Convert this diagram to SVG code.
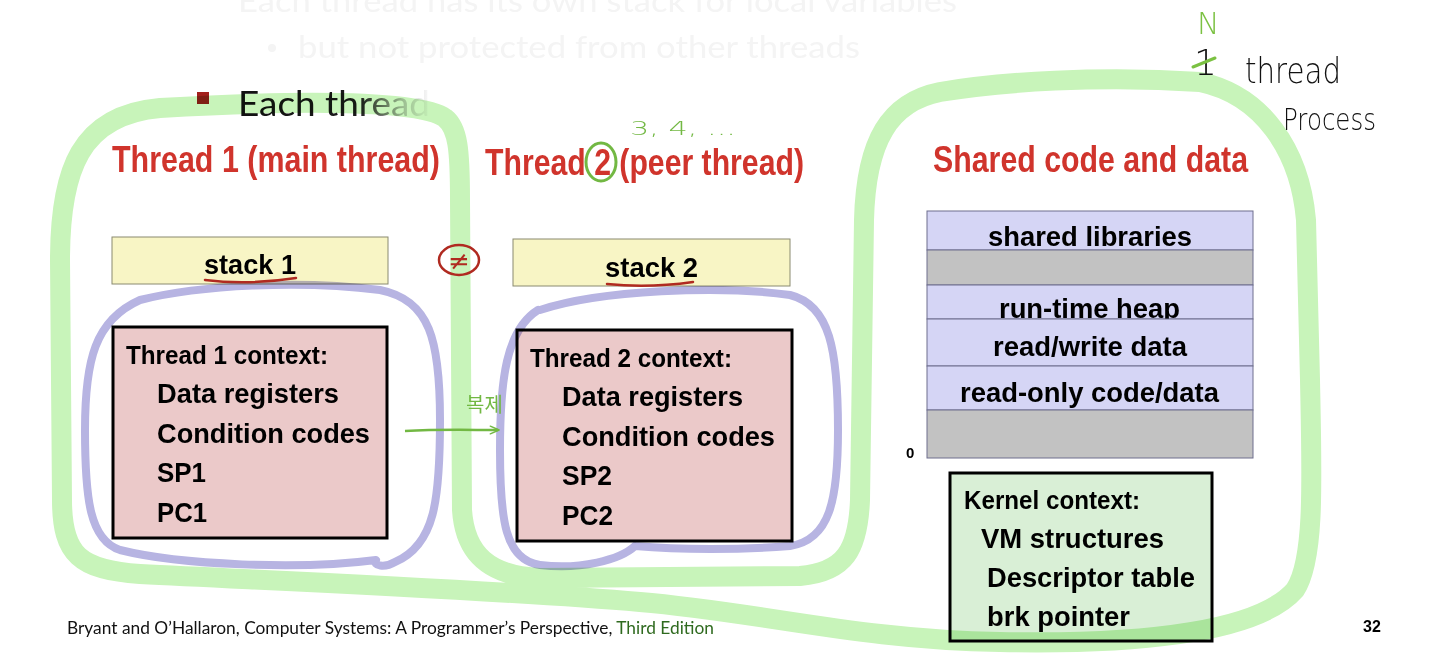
<svg xmlns="http://www.w3.org/2000/svg" width="1440" height="663" viewBox="0 0 1440 663">
<defs>
<style>
.title{font-family:"Liberation Sans",Arial,sans-serif;font-weight:bold;font-size:36px;fill:#d0342c}
.b{font-family:"Liberation Sans",Arial,sans-serif;font-weight:bold;fill:#000}
.seg{stroke:#6e6e8e;stroke-width:1}
.lav{fill:#d5d5f5}
.gry{fill:#c2c2c2}
.ctx{fill:#ebc9c9;stroke:#000;stroke-width:3}
.stk{fill:#f8f5c5;stroke:#8a8a70;stroke-width:1}
.faint{font-family:Lato,"Open Sans",sans-serif;font-size:31px;fill:#f4f4f4}
.hand{font-family:"DejaVu Sans",sans-serif;font-weight:200}
.hl{fill:none;stroke:#c8f4ba;stroke-width:20;stroke-linecap:round;stroke-linejoin:round;mix-blend-mode:multiply}
.pu{fill:none;stroke:#b7b4e2;stroke-width:8;stroke-linecap:round;stroke-linejoin:round;mix-blend-mode:multiply}
.gr{fill:none;stroke:#72b843;stroke-width:3;stroke-linecap:round}
.rd{fill:none;stroke:#b02a20;stroke-width:2.5;stroke-linecap:round}
</style>
<linearGradient id="fade" gradientUnits="userSpaceOnUse" x1="238" y1="0" x2="440" y2="0">
<stop offset="0" stop-color="#111"/>
<stop offset="0.6" stop-color="#1a1a1a"/>
<stop offset="0.82" stop-color="#c8c8c8"/>
<stop offset="0.95" stop-color="#fafafa"/>
<stop offset="1" stop-color="#fff"/>
</linearGradient>
<marker id="arr" viewBox="0 0 10 10" refX="8" refY="5" markerWidth="11" markerHeight="11" orient="auto" markerUnits="userSpaceOnUse">
<path d="M1,1.5 L9,5 L1,8.5" fill="none" stroke="#72b843" stroke-width="1.3" stroke-linecap="round" stroke-linejoin="round"/>
</marker>
</defs>
<rect width="1440" height="663" fill="#fff"/>

<g id="slide-text">
<text class="faint" x="238" y="12" textLength="719" lengthAdjust="spacingAndGlyphs">Each thread has its own stack for local variables</text>
<circle cx="272" cy="48" r="4" fill="#f4f4f4"/>
<text class="faint" x="298" y="58" textLength="562" lengthAdjust="spacingAndGlyphs">but not protected from other threads</text>
<rect x="197" y="92" width="12" height="12" fill="#a3201b"/>
<text x="238" y="116" font-family="Lato,'Open Sans',sans-serif" font-size="34" fill="url(#fade)" textLength="192" lengthAdjust="spacingAndGlyphs">Each thread</text>
</g>

<g id="thread1">
<text class="title" x="112" y="172" textLength="328" lengthAdjust="spacingAndGlyphs">Thread 1 (main thread)</text>
<g id="stack1">
<rect class="stk" x="112" y="237" width="276" height="47"/>
<text class="b" x="204" y="274" font-size="27" textLength="92" lengthAdjust="spacingAndGlyphs">stack 1</text>
</g>
<g id="ctx1">
<rect class="ctx" x="113" y="327" width="274" height="211"/>
<text class="b" x="126" y="364" font-size="25" textLength="202" lengthAdjust="spacingAndGlyphs">Thread 1 context:</text>
<text class="b" x="157" y="403" font-size="28" textLength="182" lengthAdjust="spacingAndGlyphs">Data registers</text>
<text class="b" x="157" y="443" font-size="28" textLength="213" lengthAdjust="spacingAndGlyphs">Condition codes</text>
<text class="b" x="157" y="482" font-size="28" textLength="49" lengthAdjust="spacingAndGlyphs">SP1</text>
<text class="b" x="157" y="522" font-size="28" textLength="50" lengthAdjust="spacingAndGlyphs">PC1</text>
</g>
</g>

<g id="thread2">
<text class="title" x="485" y="175" textLength="319" lengthAdjust="spacingAndGlyphs">Thread 2 (peer thread)</text>
<g id="stack2">
<rect class="stk" x="513" y="239" width="277" height="47"/>
<text class="b" x="605" y="277" font-size="27" textLength="93" lengthAdjust="spacingAndGlyphs">stack 2</text>
</g>
<g id="ctx2">
<rect class="ctx" x="517" y="330" width="275" height="211"/>
<text class="b" x="530" y="367" font-size="25" textLength="202" lengthAdjust="spacingAndGlyphs">Thread 2 context:</text>
<text class="b" x="562" y="406" font-size="28" textLength="181" lengthAdjust="spacingAndGlyphs">Data registers</text>
<text class="b" x="562" y="446" font-size="28" textLength="213" lengthAdjust="spacingAndGlyphs">Condition codes</text>
<text class="b" x="562" y="485" font-size="28" textLength="50" lengthAdjust="spacingAndGlyphs">SP2</text>
<text class="b" x="562" y="525" font-size="28" textLength="51" lengthAdjust="spacingAndGlyphs">PC2</text>
</g>
</g>

<g id="shared">
<text class="title" x="933" y="172" textLength="315" lengthAdjust="spacingAndGlyphs">Shared code and data</text>
<g id="memory">
<rect class="seg lav" x="927" y="211" width="326" height="39"/>
<text class="b" x="988" y="246" font-size="28" textLength="204" lengthAdjust="spacingAndGlyphs">shared libraries</text>
<rect class="seg gry" x="927" y="250" width="326" height="35"/>
<rect class="seg lav" x="927" y="285" width="326" height="34"/>
<text class="b" x="999" y="318" font-size="28" textLength="181" lengthAdjust="spacingAndGlyphs">run-time heap</text>
<rect class="seg lav" x="927" y="319" width="326" height="47"/>
<text class="b" x="993" y="356" font-size="28" textLength="194" lengthAdjust="spacingAndGlyphs">read/write data</text>
<rect class="seg lav" x="927" y="366" width="326" height="44"/>
<text class="b" x="960" y="402" font-size="28" textLength="259" lengthAdjust="spacingAndGlyphs">read-only code/data</text>
<rect class="seg gry" x="927" y="410" width="326" height="48"/>
<text class="b" x="906" y="458" font-size="15">0</text>
</g>
<g id="kernel">
<rect x="950" y="473" width="262" height="168" fill="#d9efd6" stroke="#000" stroke-width="3"/>
<text class="b" x="964" y="509" font-size="25" textLength="176" lengthAdjust="spacingAndGlyphs">Kernel context:</text>
<text class="b" x="981" y="548" font-size="28" textLength="183" lengthAdjust="spacingAndGlyphs">VM structures</text>
<text class="b" x="987" y="587" font-size="28" textLength="208" lengthAdjust="spacingAndGlyphs">Descriptor table</text>
<text class="b" x="987" y="626" font-size="28" textLength="143" lengthAdjust="spacingAndGlyphs">brk pointer</text>
</g>
</g>

<g id="footer">
<text x="67" y="634" font-family="Lato,'Open Sans',sans-serif" font-size="17" fill="#111" textLength="647" lengthAdjust="spacingAndGlyphs">Bryant and O’Hallaron, Computer Systems: A Programmer’s Perspective, <tspan fill="#2f6a1f">Third Edition</tspan></text>
<text class="b" x="1363" y="632" font-size="16">32</text>
</g>

<g id="highlights">
<path class="hl" d="M445,118 C420,100 300,100 160,108 C80,115 60,170 60,260 L62,500 C62,555 80,570 140,574 C300,582 500,590 640,602 C760,612 860,640 1000,642 C1150,645 1260,630 1295,590 C1315,560 1312,480 1310,380 L1306,220 C1300,150 1262,95 1200,82 C1100,75 1000,82 940,92 C890,102 866,140 864,220 L860,500 C858,550 845,572 800,576 L540,578 C490,576 465,555 462,510 L460,200 C460,150 458,128 445,118 Z"/>
<path class="pu" d="M140,300 C200,285 300,280 380,290 C430,300 440,340 440,420 C440,500 435,545 395,562 C385,568 372,566 376,560 C300,570 180,565 120,550 C90,540 85,500 85,430 C85,360 95,320 140,300 Z"/>
<path class="pu" d="M540,310 C600,290 720,285 790,295 C830,305 838,350 838,430 C838,500 830,540 790,546 C740,550 680,550 635,546 M538,310 C506,330 500,380 500,450 C500,520 505,560 540,565 C580,570 620,560 635,546"/>
</g>

<g id="annotations">
<path class="rd" d="M205,280 C235,284 270,282 296,278"/>
<path class="rd" d="M607,284 C635,287 665,286 693,282"/>
<g id="not-equal">
<ellipse cx="459" cy="260" rx="20" ry="15" class="rd" stroke-width="3"/>
<text x="459" y="270" text-anchor="middle" font-family="'DejaVu Sans',sans-serif" font-size="26" fill="#b02a20">≠</text>
</g>
<ellipse cx="601" cy="162" rx="15" ry="19" class="gr"/>
<text class="hand" x="630" y="135" font-size="19" fill="#72b843" textLength="106" lengthAdjust="spacingAndGlyphs">3, 4, ...</text>
<text x="466" y="412" font-family="'Noto Sans CJK KR',sans-serif" font-size="20" fill="#72b843">복제</text>
<text class="hand" x="1197" y="34" font-size="30" fill="#7bc142">N</text>
<text class="hand" x="1194" y="75" font-size="36" fill="#111">1</text>
<path d="M1193,67 L1215,58" stroke="#7bc142" stroke-width="3" stroke-linecap="round"/>
<text class="hand" x="1245" y="83" font-size="36" fill="#111" textLength="96" lengthAdjust="spacingAndGlyphs">thread</text>
<text class="hand" x="1283" y="130" font-size="30" fill="#111" textLength="93" lengthAdjust="spacingAndGlyphs">Process</text>
</g>

<g id="connectors">
<path d="M405,431 C440,429 470,430 498,430" fill="none" stroke="#72b843" stroke-width="2.5" marker-end="url(#arr)"/>
</g>
</svg>
